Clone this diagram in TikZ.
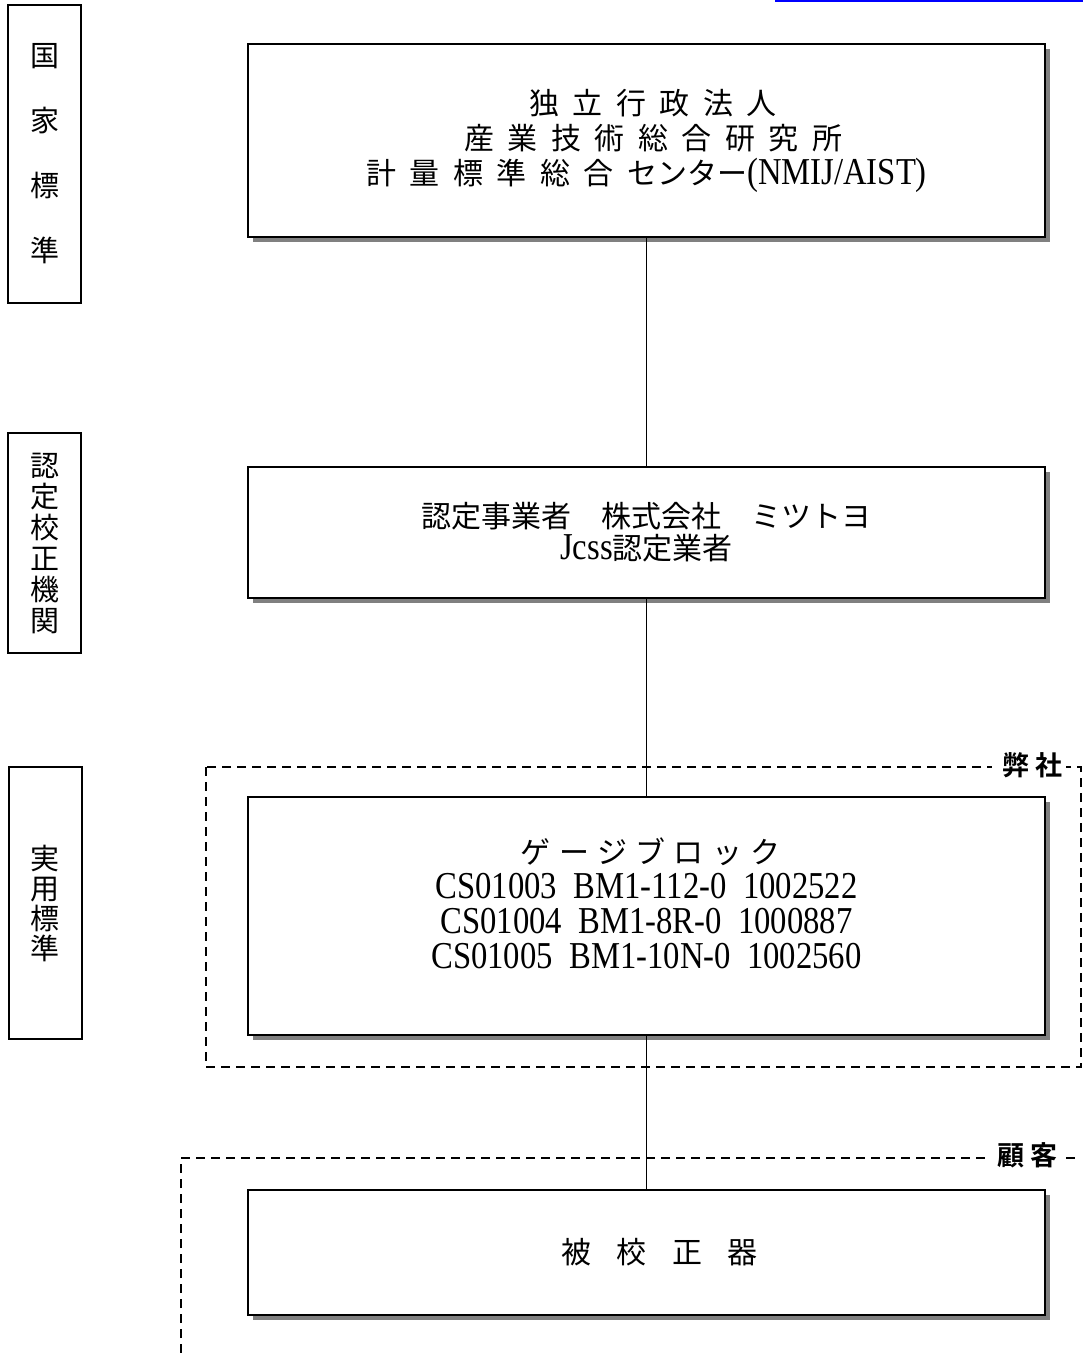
\documentclass[tikz,border=0pt]{standalone}
\usepackage{fontspec}
\usetikzlibrary{shadows}
\setmainfont{Liberation Serif}[FakeStretch=0.86]
\newfontfamily\jp{Noto Sans CJK JP}
\newfontfamily\jpwide{Noto Sans CJK JP}[LetterSpace=45]
\newfontfamily\jpgauge{Noto Sans CJK JP}[LetterSpace=28]
\newfontfamily\jpdut{Noto Sans CJK JP}[LetterSpace=85]
\newfontfamily\jptag{Noto Sans CJK JP Bold}[LetterSpace=25]
\newcommand\latin{\fontsize{19}{17.5}\selectfont\rmfamily}

\begin{document}
\begin{tikzpicture}[x=0.5pt, y=-0.5pt,
    mainbox/.style={draw, line width=1pt, fill=white, inner sep=0pt, align=center,
        minimum width=398.5pt,
        drop shadow={shadow xshift=2.5pt, shadow yshift=-2.5pt, fill=black!50, opacity=1}},
    sidebox/.style={draw, line width=0.8pt, inner sep=0pt, align=center, minimum width=36.5pt},
    region/.style={line width=0.9pt, dash pattern=on 4.5pt off 3pt},
    regiontag/.style={fill=white, inner xsep=5pt, inner ysep=2pt, font=\jptag\fontsize{13.5}{15}\selectfont}]
    \useasboundingbox (0,0) rectangle (1083,1353);
    \draw[blue, line width=1pt] (775,1) -- (1083,1);

    \node[sidebox, minimum height=149pt, font=\jp\fontsize{14.5}{32.5}\selectfont] (national) at (44.5,154) {国\\家\\標\\準};
    \node[sidebox, minimum height=110pt, font=\jp\fontsize{14.5}{15.5}\selectfont] (accredited) at (44.5,543) {認\\定\\校\\正\\機\\関};
    \node[sidebox, minimum height=136pt, font=\jp\fontsize{14.5}{15}\selectfont] (practical) at (45.5,903) {実\\用\\標\\準};

    \draw[region] (206,767) rectangle (1081,1067);
    \node[regiontag] (ourtag) at (1029,765) {弊社\kern-.25em};
    \draw[region] (181,1353) -- (181,1158) -- (1081,1158);
    \node[regiontag] (customertag) at (1024,1155) {顧客\kern-.25em};

    \node[mainbox, minimum height=96.5pt, font=\jpwide\fontsize{15}{17.5}\selectfont] (nmij) at (646.5,140.5)
        {独立行政法人\kern-.45em\\産業技術総合研究所\kern-.45em\\計量標準総合\hspace{.45em}{\jp センター}{\latin (NMIJ/AIST)}};
    \node[mainbox, minimum height=65.5pt, font=\jp\fontsize{15}{16}\selectfont] (jcss) at (646.5,532.5)
        {認定事業者\hspace{1em}株式会社\hspace{1em}ミツトヨ\\{\latin Jcss}認定業者};
    \node[mainbox, minimum height=119pt] (gauge) at (646.5,916) {};
    \node[align=center, font=\latin] (gaugetext) at (646.5,903)
        {{\jpgauge\fontsize{15}{17.5}\selectfont ゲージブロック\kern-.28em}\\CS01003~~BM1-112-0~~1002522\\CS01004~~BM1-8R-0~~1000887\\CS01005~~BM1-10N-0~~1002560};
    \node[mainbox, minimum height=62.5pt, font=\jpdut\fontsize{15}{17.5}\selectfont] (dut) at (646.5,1252.5) {被校正器\kern-.85em};

    \draw[line width=0.9pt] (nmij) -- (jcss);
    \draw[line width=0.9pt] (jcss) -- (gauge);
    \draw[line width=0.9pt] (gauge) -- (dut);
\end{tikzpicture}
\end{document}
